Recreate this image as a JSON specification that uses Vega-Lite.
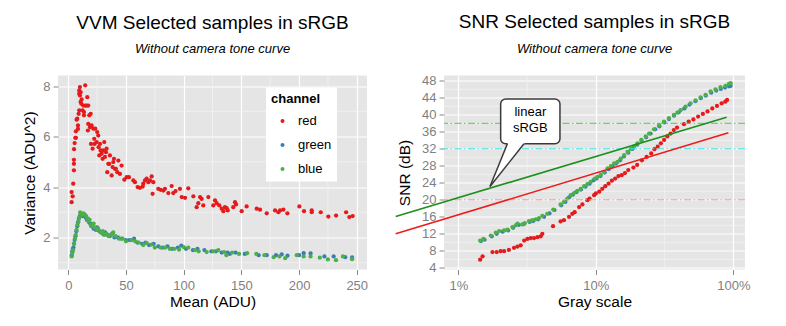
{
  "$schema": "https://vega.github.io/schema/vega-lite/v6.json",
  "background": "white",
  "padding": {"left": 22, "top": 12.5, "right": 10, "bottom": 10},
  "bounds": "flush",
  "spacing": 77,
  "config": {
    "font": "Liberation Sans",
    "view": {"fill": "#e5e5e5", "stroke": null},
    "axis": {"grid": true, "gridColor": "white", "gridWidth": 1.2, "domain": false, "tickColor": "#888888", "tickSize": 5, "labelColor": "#7f7f7f", "labelFontSize": 13, "titleFontSize": 15.5, "titleFontWeight": "normal", "titleColor": "black", "labelPadding": 3, "labelFlush": false, "labelOverlap": false},
    "title": {"fontSize": 19, "fontWeight": "normal", "subtitleFontSize": 13, "subtitleFontStyle": "italic", "subtitleColor": "black", "anchor": "middle", "frame": "group", "offset": 19, "subtitlePadding": 10.5}
  },
  "datasets": {
    "vvm": [
      {"c":"red","m":2.9,"v":3.40},{"c":"red","m":2.9,"v":3.80},{"c":"red","m":3.8,"v":3.63},{"c":"red","m":4.3,"v":4.13},{"c":"red","m":4.9,"v":4.66},{"c":"red","m":4.9,"v":4.92},{"c":"red","m":4.9,"v":5.08},{"c":"red","m":5.0,"v":5.5},{"c":"red","m":5.5,"v":5.74},{"c":"red","m":6.1,"v":5.95},{"c":"red","m":6.6,"v":5.95},{"c":"red","m":6.6,"v":6.21},{"c":"red","m":7.2,"v":6.67},{"c":"red","m":7.8,"v":6.71},{"c":"red","m":8.4,"v":6.3},{"c":"red","m":8.4,"v":6.44},{"c":"red","m":9.0,"v":6.9},{"c":"red","m":9.5,"v":7.04},{"c":"red","m":9.5,"v":7.7},{"c":"red","m":9.5,"v":7.83},{"c":"red","m":10.1,"v":7.96},{"c":"red","m":10.1,"v":7.63},{"c":"red","m":10.7,"v":7.76},{"c":"red","m":10.7,"v":7.37},{"c":"red","m":11.3,"v":7.3},{"c":"red","m":11.6,"v":7.47},{"c":"red","m":12.4,"v":7.04},{"c":"red","m":13,"v":7.23},{"c":"red","m":13.6,"v":6.84},{"c":"red","m":13.6,"v":6.97},{"c":"red","m":14.7,"v":8.03},{"c":"red","m":14.7,"v":7.23},{"c":"red","m":15.9,"v":7.23},{"c":"red","m":16.5,"v":7.56},{"c":"red","m":17.3,"v":7.23},{"c":"red","m":17,"v":6.24},{"c":"red","m":17.3,"v":6.5},{"c":"red","m":18.2,"v":6.84},{"c":"red","m":18.8,"v":6.37},{"c":"red","m":19.4,"v":6.9},{"c":"red","m":19.7,"v":5.71},{"c":"red","m":20.2,"v":6.44},{"c":"red","m":21.1,"v":5.52},{"c":"red","m":21.7,"v":6.31},{"c":"red","m":22.5,"v":5.91},{"c":"red","m":22.8,"v":5.71},{"c":"red","m":23.4,"v":6.31},{"c":"red","m":24.6,"v":5.78},{"c":"red","m":25.1,"v":6.18},{"c":"red","m":26,"v":6.04},{"c":"red","m":26.3,"v":5.58},{"c":"red","m":26.9,"v":5.25},{"c":"red","m":27.5,"v":5.71},{"c":"red","m":28,"v":5.45},{"c":"red","m":28.9,"v":5.32},{"c":"red","m":29.8,"v":5.12},{"c":"red","m":30.3,"v":5.45},{"c":"red","m":31.2,"v":5.78},{"c":"red","m":31.8,"v":5.19},{"c":"red","m":32.7,"v":5.38},{"c":"red","m":33.2,"v":5.52},{"c":"red","m":33.8,"v":4.59},{"c":"red","m":34.7,"v":4.92},{"c":"red","m":35.5,"v":4.92},{"c":"red","m":36.1,"v":5.25},{"c":"red","m":37.6,"v":4.46},{"c":"red","m":38.4,"v":4.79},{"c":"red","m":39,"v":4.99},{"c":"red","m":39.6,"v":5.12},{"c":"red","m":40.5,"v":4.72},{"c":"red","m":41.3,"v":4.72},{"c":"red","m":42.5,"v":4.59},{"c":"red","m":43.4,"v":5.05},{"c":"red","m":44.8,"v":4.52},{"c":"red","m":46.2,"v":4.85},{"c":"red","m":48.6,"v":4.29},{"c":"red","m":50.6,"v":4.39},{"c":"red","m":52.6,"v":4.39},{"c":"red","m":56.4,"v":4.26},{"c":"red","m":57.8,"v":4.19},{"c":"red","m":60.1,"v":4.0},{"c":"red","m":62.1,"v":3.97},{"c":"red","m":64.5,"v":4.02},{"c":"red","m":65,"v":4.13},{"c":"red","m":66.5,"v":4.26},{"c":"red","m":67.9,"v":4.33},{"c":"red","m":69.4,"v":4.19},{"c":"red","m":70.8,"v":4.26},{"c":"red","m":72.3,"v":4.42},{"c":"red","m":73.1,"v":3.73},{"c":"red","m":73.7,"v":4.19},{"c":"red","m":78,"v":3.93},{"c":"red","m":80.1,"v":3.89},{"c":"red","m":82.4,"v":3.86},{"c":"red","m":83.8,"v":3.93},{"c":"red","m":86.7,"v":3.76},{"c":"red","m":89.6,"v":4.04},{"c":"red","m":91,"v":3.76},{"c":"red","m":93,"v":3.84},{"c":"red","m":96.8,"v":3.93},{"c":"red","m":98.3,"v":3.6},{"c":"red","m":101.2,"v":3.57},{"c":"red","m":104,"v":3.95},{"c":"red","m":108.4,"v":3.63},{"c":"red","m":111.3,"v":3.2},{"c":"red","m":112.7,"v":3.36},{"c":"red","m":114.2,"v":3.6},{"c":"red","m":115.6,"v":3.53},{"c":"red","m":117,"v":3.27},{"c":"red","m":121.4,"v":3.6},{"c":"red","m":125.7,"v":3.27},{"c":"red","m":127.2,"v":3.47},{"c":"red","m":128.6,"v":3.36},{"c":"red","m":130.9,"v":3.27},{"c":"red","m":133,"v":3.14},{"c":"red","m":134.4,"v":3.04},{"c":"red","m":135.8,"v":3.2},{"c":"red","m":137.3,"v":3.16},{"c":"red","m":138.2,"v":3.07},{"c":"red","m":143,"v":3.2},{"c":"red","m":144.5,"v":3.4},{"c":"red","m":145.4,"v":3.31},{"c":"red","m":150.3,"v":3.04},{"c":"red","m":154.6,"v":3.23},{"c":"red","m":163.3,"v":3.14},{"c":"red","m":166.2,"v":3.1},{"c":"red","m":172,"v":2.96},{"c":"red","m":179.2,"v":3.07},{"c":"red","m":182.1,"v":3.0},{"c":"red","m":183.5,"v":3.07},{"c":"red","m":186.4,"v":3.1},{"c":"red","m":189.9,"v":2.96},{"c":"red","m":200.3,"v":3.23},{"c":"red","m":204.3,"v":3.04},{"c":"red","m":211,"v":3.0},{"c":"red","m":211,"v":3.07},{"c":"red","m":218.8,"v":3.0},{"c":"red","m":225.4,"v":2.83},{"c":"red","m":232.1,"v":2.87},{"c":"red","m":240.8,"v":3.0},{"c":"red","m":243.6,"v":2.81},{"c":"red","m":246.5,"v":2.85},
      {"c":"green","m":3.0,"v":1.3},{"c":"green","m":3.5,"v":1.45},{"c":"green","m":4.0,"v":1.55},{"c":"green","m":4.5,"v":1.6},{"c":"green","m":5.0,"v":1.75},{"c":"green","m":5.5,"v":1.9},{"c":"green","m":6.2,"v":2.05},{"c":"green","m":7.0,"v":2.25},{"c":"green","m":7.8,"v":2.45},{"c":"green","m":8.5,"v":2.6},{"c":"green","m":9.2,"v":2.75},{"c":"green","m":10.0,"v":2.85},{"c":"green","m":10.8,"v":2.95},{"c":"green","m":11.5,"v":2.9},{"c":"green","m":12.3,"v":2.85},{"c":"green","m":13.0,"v":2.95},{"c":"green","m":14.0,"v":2.85},{"c":"green","m":15.0,"v":2.8},{"c":"green","m":16,"v":2.7},{"c":"green","m":17,"v":2.75},{"c":"green","m":18,"v":2.6},{"c":"green","m":19,"v":2.55},{"c":"green","m":20,"v":2.45},{"c":"green","m":21,"v":2.5},{"c":"green","m":22,"v":2.35},{"c":"green","m":24,"v":2.3},{"c":"green","m":25,"v":2.4},{"c":"green","m":27,"v":2.25},{"c":"green","m":29,"v":2.2},{"c":"green","m":30,"v":2.15},{"c":"green","m":32,"v":2.2},{"c":"green","m":34,"v":2.1},{"c":"green","m":36,"v":2.05},{"c":"green","m":38,"v":2.15},{"c":"green","m":40,"v":2.0},{"c":"green","m":43,"v":2.0},{"c":"green","m":46,"v":1.95},{"c":"green","m":50,"v":1.9},{"c":"green","m":53,"v":1.9},{"c":"green","m":57,"v":1.95},{"c":"green","m":60,"v":1.8},{"c":"green","m":64,"v":1.75},{"c":"green","m":67,"v":1.8},{"c":"green","m":70,"v":1.7},{"c":"green","m":74,"v":1.75},{"c":"green","m":78,"v":1.65},{"c":"green","m":82,"v":1.6},{"c":"green","m":86,"v":1.65},{"c":"green","m":90,"v":1.55},{"c":"green","m":95,"v":1.6},{"c":"green","m":98,"v":1.68},{"c":"green","m":102,"v":1.55},{"c":"green","m":108,"v":1.5},{"c":"green","m":112,"v":1.55},{"c":"green","m":118,"v":1.5},{"c":"green","m":124,"v":1.45},{"c":"green","m":128,"v":1.45},{"c":"green","m":133,"v":1.4},{"c":"green","m":138,"v":1.4},{"c":"green","m":140,"v":1.35},{"c":"green","m":145,"v":1.4},{"c":"green","m":153,"v":1.35},{"c":"green","m":165,"v":1.3},{"c":"green","m":172,"v":1.3},{"c":"green","m":180,"v":1.3},{"c":"green","m":185,"v":1.33},{"c":"green","m":190,"v":1.28},{"c":"green","m":200,"v":1.3},{"c":"green","m":204,"v":1.38},{"c":"green","m":210,"v":1.37},{"c":"green","m":222,"v":1.25},{"c":"green","m":230,"v":1.25},{"c":"green","m":240,"v":1.22},{"c":"green","m":246,"v":1.21},
      {"c":"blue","m":3.0,"v":1.25},{"c":"blue","m":3.6,"v":1.4},{"c":"blue","m":4.2,"v":1.5},{"c":"blue","m":5.0,"v":1.75},{"c":"blue","m":5.8,"v":1.95},{"c":"blue","m":6.5,"v":2.1},{"c":"blue","m":7.2,"v":2.3},{"c":"blue","m":8.0,"v":2.5},{"c":"blue","m":8.8,"v":2.65},{"c":"blue","m":9.5,"v":2.8},{"c":"blue","m":10.3,"v":3.0},{"c":"blue","m":11.0,"v":2.95},{"c":"blue","m":12.0,"v":2.9},{"c":"blue","m":13.5,"v":2.95},{"c":"blue","m":14.5,"v":2.9},{"c":"blue","m":15.5,"v":2.85},{"c":"blue","m":16.5,"v":2.75},{"c":"blue","m":17.5,"v":2.65},{"c":"blue","m":18.5,"v":2.7},{"c":"blue","m":19.5,"v":2.5},{"c":"blue","m":20.5,"v":2.45},{"c":"blue","m":22,"v":2.55},{"c":"blue","m":23,"v":2.4},{"c":"blue","m":25,"v":2.3},{"c":"blue","m":26,"v":2.35},{"c":"blue","m":28,"v":2.2},{"c":"blue","m":30,"v":2.25},{"c":"blue","m":31,"v":2.1},{"c":"blue","m":33,"v":2.15},{"c":"blue","m":35,"v":2.05},{"c":"blue","m":37,"v":2.1},{"c":"blue","m":39,"v":2.2},{"c":"blue","m":41,"v":2.05},{"c":"blue","m":44,"v":1.95},{"c":"blue","m":47,"v":1.95},{"c":"blue","m":50,"v":1.85},{"c":"blue","m":55,"v":1.9},{"c":"blue","m":58,"v":1.85},{"c":"blue","m":61,"v":1.8},{"c":"blue","m":65,"v":1.7},{"c":"blue","m":68,"v":1.78},{"c":"blue","m":72,"v":1.72},{"c":"blue","m":75,"v":1.6},{"c":"blue","m":80,"v":1.6},{"c":"blue","m":84,"v":1.6},{"c":"blue","m":88,"v":1.55},{"c":"blue","m":92,"v":1.55},{"c":"blue","m":96,"v":1.52},{"c":"blue","m":100,"v":1.62},{"c":"blue","m":104,"v":1.6},{"c":"blue","m":110,"v":1.5},{"c":"blue","m":113,"v":1.45},{"c":"blue","m":120,"v":1.42},{"c":"blue","m":126,"v":1.45},{"c":"blue","m":130,"v":1.5},{"c":"blue","m":135,"v":1.42},{"c":"blue","m":137,"v":1.3},{"c":"blue","m":142,"v":1.4},{"c":"blue","m":148,"v":1.35},{"c":"blue","m":155,"v":1.38},{"c":"blue","m":163,"v":1.35},{"c":"blue","m":170,"v":1.3},{"c":"blue","m":178,"v":1.22},{"c":"blue","m":183,"v":1.25},{"c":"blue","m":188,"v":1.18},{"c":"blue","m":198,"v":1.3},{"c":"blue","m":204,"v":1.25},{"c":"blue","m":210,"v":1.25},{"c":"blue","m":218,"v":1.2},{"c":"blue","m":225,"v":1.13},{"c":"blue","m":232,"v":1.1},{"c":"blue","m":238,"v":1.25},{"c":"blue","m":246,"v":1.14}
    ],
    "snr": [
      {"c":"red","g":0.0144,"s":5.9},{"c":"red","g":0.0150,"s":6.7},{"c":"red","g":0.0177,"s":7.7},{"c":"red","g":0.0190,"s":7.7},{"c":"red","g":0.0203,"s":7.9},{"c":"red","g":0.0215,"s":7.9},{"c":"red","g":0.0233,"s":8.2},{"c":"red","g":0.0254,"s":8.7},{"c":"red","g":0.0269,"s":9.0},{"c":"red","g":0.0284,"s":9.3},{"c":"red","g":0.0301,"s":10.4},{"c":"red","g":0.0318,"s":10.8},{"c":"red","g":0.0336,"s":11.0},{"c":"red","g":0.0355,"s":11.0},{"c":"red","g":0.0376,"s":11.2},{"c":"red","g":0.0397,"s":11.4},{"c":"red","g":0.0408,"s":12.0},{"c":"red","g":0.0488,"s":13.8},{"c":"red","g":0.0554,"s":14.9},{"c":"red","g":0.0586,"s":15.2},{"c":"red","g":0.0638,"s":16.0},{"c":"red","g":0.0674,"s":16.7},{"c":"red","g":0.0701,"s":17.1},{"c":"red","g":0.0755,"s":18.3},{"c":"red","g":0.0798,"s":18.9},{"c":"red","g":0.0867,"s":19.9},{"c":"red","g":0.090,"s":20.3},{"c":"red","g":0.0971,"s":21.1},{"c":"red","g":0.100,"s":21.5},{"c":"red","g":0.1059,"s":21.9},{"c":"red","g":0.1113,"s":22.6},{"c":"red","g":0.1171,"s":23.2},{"c":"red","g":0.1237,"s":23.8},{"c":"red","g":0.1307,"s":24.5},{"c":"red","g":0.1381,"s":25.0},{"c":"red","g":0.1459,"s":25.6},{"c":"red","g":0.1541,"s":25.8},{"c":"red","g":0.1628,"s":26.3},{"c":"red","g":0.172,"s":27.0},{"c":"red","g":0.1875,"s":27.6},{"c":"red","g":0.1996,"s":28.2},{"c":"red","g":0.2162,"s":29.3},{"c":"red","g":0.2338,"s":30.1},{"c":"red","g":0.2527,"s":30.9},{"c":"red","g":0.2667,"s":31.9},{"c":"red","g":0.2815,"s":32.5},{"c":"red","g":0.2971,"s":33.3},{"c":"red","g":0.3136,"s":34.1},{"c":"red","g":0.3311,"s":34.9},{"c":"red","g":0.3495,"s":35.6},{"c":"red","g":0.3689,"s":36.4},{"c":"red","g":0.3894,"s":37.0},{"c":"red","g":0.4374,"s":37.8},{"c":"red","g":0.4734,"s":38.4},{"c":"red","g":0.5122,"s":38.9},{"c":"red","g":0.5542,"s":39.6},{"c":"red","g":0.5998,"s":40.2},{"c":"red","g":0.649,"s":40.8},{"c":"red","g":0.7023,"s":41.5},{"c":"red","g":0.7599,"s":42.1},{"c":"red","g":0.8223,"s":42.7},{"c":"red","g":0.8741,"s":43.1},{"c":"red","g":0.90,"s":43.5},
      {"c":"green","g":0.0146,"s":10.3},{"c":"green","g":0.0155,"s":10.6},{"c":"green","g":0.0175,"s":11.4},{"c":"green","g":0.0190,"s":12.0},{"c":"green","g":0.0210,"s":12.5},{"c":"green","g":0.0230,"s":12.8},{"c":"green","g":0.0250,"s":13.4},{"c":"green","g":0.0275,"s":14.1},{"c":"green","g":0.0300,"s":14.3},{"c":"green","g":0.0330,"s":14.8},{"c":"green","g":0.0350,"s":15.0},{"c":"green","g":0.0380,"s":15.4},{"c":"green","g":0.0420,"s":16.0},{"c":"green","g":0.0460,"s":16.8},{"c":"green","g":0.0500,"s":17.6},{"c":"green","g":0.0560,"s":18.7},{"c":"green","g":0.0600,"s":19.5},{"c":"green","g":0.0640,"s":20.6},{"c":"green","g":0.0680,"s":21.2},{"c":"green","g":0.0720,"s":21.8},{"c":"green","g":0.0780,"s":22.4},{"c":"green","g":0.0840,"s":23.1},{"c":"green","g":0.0900,"s":23.8},{"c":"green","g":0.0960,"s":24.6},{"c":"green","g":0.1010,"s":25.0},{"c":"green","g":0.1080,"s":25.6},{"c":"green","g":0.1160,"s":26.4},{"c":"green","g":0.1240,"s":27.2},{"c":"green","g":0.1320,"s":27.9},{"c":"green","g":0.1400,"s":28.5},{"c":"green","g":0.1500,"s":29.3},{"c":"green","g":0.1600,"s":30.2},{"c":"green","g":0.1720,"s":31.1},{"c":"green","g":0.1850,"s":32.0},{"c":"green","g":0.2000,"s":33.0},{"c":"green","g":0.2150,"s":33.9},{"c":"green","g":0.2320,"s":34.7},{"c":"green","g":0.2500,"s":35.6},{"c":"green","g":0.2700,"s":36.6},{"c":"green","g":0.2900,"s":37.3},{"c":"green","g":0.3150,"s":38.2},{"c":"green","g":0.3400,"s":39.0},{"c":"green","g":0.3700,"s":39.8},{"c":"green","g":0.4000,"s":40.6},{"c":"green","g":0.4400,"s":41.5},{"c":"green","g":0.4800,"s":42.4},{"c":"green","g":0.5300,"s":43.2},{"c":"green","g":0.5800,"s":43.9},{"c":"green","g":0.6300,"s":44.5},{"c":"green","g":0.6900,"s":45.2},{"c":"green","g":0.7500,"s":45.7},{"c":"green","g":0.8100,"s":46.1},{"c":"green","g":0.8700,"s":46.4},{"c":"green","g":0.9300,"s":46.7},{"c":"green","g":0.9550,"s":46.8},
      {"c":"blue","g":0.0144,"s":10.4},{"c":"blue","g":0.0152,"s":10.8},{"c":"blue","g":0.0172,"s":11.6},{"c":"blue","g":0.0187,"s":12.25},{"c":"blue","g":0.0198,"s":12.65},{"c":"blue","g":0.0215,"s":12.8},{"c":"blue","g":0.0227,"s":13.0},{"c":"blue","g":0.0247,"s":13.6},{"c":"blue","g":0.0261,"s":14.0},{"c":"blue","g":0.0269,"s":14.4},{"c":"blue","g":0.0292,"s":14.2},{"c":"blue","g":0.0304,"s":14.5},{"c":"blue","g":0.0326,"s":15.0},{"c":"blue","g":0.0345,"s":15.2},{"c":"blue","g":0.0365,"s":15.4},{"c":"blue","g":0.0386,"s":15.7},{"c":"blue","g":0.0408,"s":16.2},{"c":"blue","g":0.0443,"s":16.7},{"c":"blue","g":0.0490,"s":17.7},{"c":"blue","g":0.0554,"s":18.9},{"c":"blue","g":0.0586,"s":19.5},{"c":"blue","g":0.0620,"s":20.3},{"c":"blue","g":0.0656,"s":21.1},{"c":"blue","g":0.0694,"s":21.6},{"c":"blue","g":0.0734,"s":22.1},{"c":"blue","g":0.0776,"s":22.6},{"c":"blue","g":0.0821,"s":23.2},{"c":"blue","g":0.0867,"s":23.7},{"c":"blue","g":0.0917,"s":24.2},{"c":"blue","g":0.0982,"s":25.0},{"c":"blue","g":0.1027,"s":25.4},{"c":"blue","g":0.1087,"s":25.9},{"c":"blue","g":0.1149,"s":26.6},{"c":"blue","g":0.1215,"s":27.4},{"c":"blue","g":0.1285,"s":27.9},{"c":"blue","g":0.1358,"s":28.6},{"c":"blue","g":0.1436,"s":28.9},{"c":"blue","g":0.1518,"s":29.7},{"c":"blue","g":0.1605,"s":30.5},{"c":"blue","g":0.1697,"s":31.3},{"c":"blue","g":0.1794,"s":31.9},{"c":"blue","g":0.1896,"s":32.6},{"c":"blue","g":0.2005,"s":33.3},{"c":"blue","g":0.2141,"s":34.1},{"c":"blue","g":0.2304,"s":34.9},{"c":"blue","g":0.2436,"s":35.6},{"c":"blue","g":0.2647,"s":36.6},{"c":"blue","g":0.2877,"s":37.5},{"c":"blue","g":0.3128,"s":38.4},{"c":"blue","g":0.340,"s":39.2},{"c":"blue","g":0.3696,"s":40.0},{"c":"blue","g":0.391,"s":40.5},{"c":"blue","g":0.4134,"s":41.1},{"c":"blue","g":0.4494,"s":41.9},{"c":"blue","g":0.4885,"s":42.7},{"c":"blue","g":0.531,"s":43.4},{"c":"blue","g":0.5772,"s":44.1},{"c":"blue","g":0.6274,"s":44.7},{"c":"blue","g":0.682,"s":45.5},{"c":"blue","g":0.7414,"s":46.0},{"c":"blue","g":0.8059,"s":46.5},{"c":"blue","g":0.876,"s":46.8},{"c":"blue","g":0.9273,"s":47.3},{"c":"blue","g":0.955,"s":47.45}
    ],
    "fit": [
      {"c":"green","g":0.0035,"s":16.07},{"c":"green","g":0.893,"s":39.44},
      {"c":"red","g":0.0035,"s":12.0},{"c":"red","g":0.92,"s":35.76}
    ],
    "gLy": [{"v":1},{"v":3},{"v":5},{"v":7}],
    "gLx": [{"m":25},{"m":75},{"m":125},{"m":175},{"m":225}],
    "gRy": [{"s":6},{"s":10},{"s":14},{"s":18},{"s":22},{"s":26},{"s":30},{"s":34},{"s":38},{"s":42},{"s":46}],
    "gRx": [{"g":0.0316},{"g":0.316}],
    "box": [{"g":0.0203,"g2":0.0548,"s":33.18,"s2":43.72}],
    "tailFill": [{"g":0.01698,"s":23.13,"s2":23.13},{"g":0.02297,"s":33.55,"s2":28.46},{"g":0.03065,"s":33.55,"s2":33.55}],
    "tailEdge": [{"e":"L","g":0.01698,"s":23.13},{"e":"L","g":0.02272,"s":33.18},{"e":"R","g":0.01698,"s":23.13},{"e":"R","g":0.0300,"s":33.18}],
    "label": [{"t":"linear","g":0.03335,"s":40.66},{"t":"sRGB","g":0.03335,"s":36.78}]
  },
  "hconcat": [
    {
      "width": 309,
      "height": 194,
      "title": {"text": "VVM Selected samples in sRGB", "subtitle": "Without camera tone curve"},
      "layer": [
        {"data": {"name": "gLy"}, "mark": {"type": "rule", "color": "#f2f2f2", "strokeWidth": 0.8},
         "encoding": {"y": {"field": "v", "type": "quantitative", "title": "Variance (ADU^2)", "scale": {"domain": [0.731, 8.42], "nice": false, "zero": false}, "axis": {"values": [2, 4, 6, 8], "titlePadding": 5, "labelOverlap": false}}}},
        {"data": {"name": "gLx"}, "mark": {"type": "rule", "color": "#f2f2f2", "strokeWidth": 0.8},
         "encoding": {"x": {"field": "m", "type": "quantitative", "title": "Mean (ADU)", "scale": {"domain": [-8.9, 258.9], "nice": false, "zero": false}, "axis": {"values": [0, 50, 100, 150, 200, 250], "titlePadding": 2, "labelPadding": 5, "labelOverlap": false}}}},
        {"data": {"name": "vvm"}, "mark": {"type": "circle", "size": 18, "opacity": 1},
         "encoding": {
           "x": {"field": "m", "type": "quantitative", "title": "Mean (ADU)", "scale": {"domain": [-8.9, 258.9], "nice": false, "zero": false}, "axis": {"values": [0, 50, 100, 150, 200, 250], "titlePadding": 2, "labelPadding": 5, "labelOverlap": false}},
           "y": {"field": "v", "type": "quantitative", "title": "Variance (ADU^2)", "scale": {"domain": [0.731, 8.42], "nice": false, "zero": false}, "axis": {"values": [2, 4, 6, 8], "titlePadding": 5, "labelOverlap": false}},
           "color": {"field": "c", "type": "nominal", "scale": {"domain": ["red", "green", "blue"], "range": ["#E41A1C", "#377EB8", "#4DAF4A"]},
             "legend": {"orient": "none", "legendX": 208, "legendY": 12, "title": "channel", "titleFontSize": 13, "titleFontWeight": "bold", "titleColor": "black", "labelFontSize": 13, "labelColor": "black", "fillColor": "white", "padding": 5, "symbolType": "circle", "symbolSize": 16, "rowPadding": 10, "titlePadding": 9, "symbolOffset": 5, "labelOffset": 9}}
         }}
      ]
    },
    {
      "width": 301,
      "height": 194,
      "title": {"text": "SNR Selected samples in sRGB", "subtitle": "Without camera tone curve"},
      "layer": [
        {"data": {"name": "gRy"}, "mark": {"type": "rule", "color": "#f2f2f2", "strokeWidth": 0.8},
         "encoding": {"y": {"field": "s", "type": "quantitative", "title": "SNR (dB)", "scale": {"domain": [3.6, 49.25], "nice": false, "zero": false}, "axis": {"values": [4, 8, 12, 16, 20, 24, 28, 32, 36, 40, 44, 48], "titlePadding": 9, "labelOverlap": false}}}},
        {"data": {"name": "gRx"}, "mark": {"type": "rule", "color": "#f2f2f2", "strokeWidth": 0.8},
         "encoding": {"x": {"field": "g", "type": "quantitative", "title": "Gray scale", "scale": {"type": "log", "domain": [0.00786, 1.215], "nice": false}, "axis": {"values": [0.01, 0.1, 1], "format": ".0%", "titlePadding": 2, "labelPadding": 5, "labelOverlap": false}}}},
        {"data": {"name": "snr"}, "mark": {"type": "circle", "size": 18, "opacity": 1},
         "encoding": {
           "x": {"field": "g", "type": "quantitative", "title": "Gray scale", "scale": {"type": "log", "domain": [0.00786, 1.215], "nice": false}, "axis": {"values": [0.01, 0.1, 1], "format": ".0%", "titlePadding": 2, "labelPadding": 5, "labelOverlap": false}},
           "y": {"field": "s", "type": "quantitative", "title": "SNR (dB)", "scale": {"domain": [3.6, 49.25], "nice": false, "zero": false}, "axis": {"values": [4, 8, 12, 16, 20, 24, 28, 32, 36, 40, 44, 48], "titlePadding": 9, "labelOverlap": false}},
           "color": {"field": "c", "type": "nominal", "scale": {"domain": ["red", "green", "blue"], "range": ["#E41A1C", "#377EB8", "#4DAF4A"]}, "legend": null}
         }},
        {"data": {"values": [{"s": 38}]}, "mark": {"type": "rule", "color": "#33dd33", "strokeWidth": 1, "strokeDash": [7, 2.5, 1.5, 2.5]},
         "encoding": {"y": {"field": "s", "type": "quantitative", "title": "SNR (dB)", "axis": {"values": [4, 8, 12, 16, 20, 24, 28, 32, 36, 40, 44, 48], "titlePadding": 9, "labelOverlap": false}}}},
        {"data": {"values": [{"s": 32}]}, "mark": {"type": "rule", "color": "#33e3e3", "strokeWidth": 1, "strokeDash": [7, 2.5, 1.5, 2.5]},
         "encoding": {"y": {"field": "s", "type": "quantitative", "title": "SNR (dB)", "axis": {"values": [4, 8, 12, 16, 20, 24, 28, 32, 36, 40, 44, 48], "titlePadding": 9, "labelOverlap": false}}}},
        {"data": {"values": [{"s": 20}]}, "mark": {"type": "rule", "color": "#f09999", "strokeWidth": 1, "strokeDash": [7, 2.5, 1.5, 2.5]},
         "encoding": {"y": {"field": "s", "type": "quantitative", "title": "SNR (dB)", "axis": {"values": [4, 8, 12, 16, 20, 24, 28, 32, 36, 40, 44, 48], "titlePadding": 9, "labelOverlap": false}}}},
        {"data": {"name": "fit"}, "mark": {"type": "line", "strokeWidth": 1.6},
         "encoding": {
           "x": {"field": "g", "type": "quantitative", "title": "Gray scale", "axis": {"values": [0.01, 0.1, 1], "format": ".0%", "titlePadding": 2, "labelPadding": 5, "labelOverlap": false}},
           "y": {"field": "s", "type": "quantitative", "title": "SNR (dB)", "axis": {"values": [4, 8, 12, 16, 20, 24, 28, 32, 36, 40, 44, 48], "titlePadding": 9, "labelOverlap": false}},
           "stroke": {"field": "c", "type": "nominal", "scale": {"domain": ["green", "red"], "range": ["#1d8f1d", "#ec1c1c"]}, "legend": null}
         }},
        {"data": {"name": "box"}, "mark": {"type": "rect", "fill": "white", "stroke": "#3a3a3a", "strokeWidth": 1.5, "cornerRadius": 5},
         "encoding": {
           "x": {"field": "g", "type": "quantitative", "title": "Gray scale", "axis": {"values": [0.01, 0.1, 1], "format": ".0%", "titlePadding": 2, "labelPadding": 5, "labelOverlap": false}}, "x2": {"field": "g2"},
           "y": {"field": "s", "type": "quantitative", "title": "SNR (dB)", "axis": {"values": [4, 8, 12, 16, 20, 24, 28, 32, 36, 40, 44, 48], "titlePadding": 9, "labelOverlap": false}}, "y2": {"field": "s2"}
         }},
        {"data": {"name": "tailFill"}, "mark": {"type": "area", "fill": "white", "opacity": 1},
         "encoding": {
           "x": {"field": "g", "type": "quantitative", "title": "Gray scale", "axis": {"values": [0.01, 0.1, 1], "format": ".0%", "titlePadding": 2, "labelPadding": 5, "labelOverlap": false}},
           "y": {"field": "s", "type": "quantitative", "title": "SNR (dB)", "axis": {"values": [4, 8, 12, 16, 20, 24, 28, 32, 36, 40, 44, 48], "titlePadding": 9, "labelOverlap": false}}, "y2": {"field": "s2"}
         }},
        {"data": {"name": "tailEdge"}, "mark": {"type": "line", "color": "#3a3a3a", "strokeWidth": 1.5},
         "encoding": {
           "x": {"field": "g", "type": "quantitative", "title": "Gray scale", "axis": {"values": [0.01, 0.1, 1], "format": ".0%", "titlePadding": 2, "labelPadding": 5, "labelOverlap": false}},
           "y": {"field": "s", "type": "quantitative", "title": "SNR (dB)", "axis": {"values": [4, 8, 12, 16, 20, 24, 28, 32, 36, 40, 44, 48], "titlePadding": 9, "labelOverlap": false}},
           "detail": {"field": "e", "type": "nominal"}
         }},
        {"data": {"name": "label"}, "mark": {"type": "text", "fontSize": 13, "align": "center", "baseline": "middle", "color": "black"},
         "encoding": {
           "x": {"field": "g", "type": "quantitative", "title": "Gray scale", "axis": {"values": [0.01, 0.1, 1], "format": ".0%", "titlePadding": 2, "labelPadding": 5, "labelOverlap": false}},
           "y": {"field": "s", "type": "quantitative", "title": "SNR (dB)", "axis": {"values": [4, 8, 12, 16, 20, 24, 28, 32, 36, 40, 44, 48], "titlePadding": 9, "labelOverlap": false}},
           "text": {"field": "t", "type": "nominal"}
         }}
      ]
    }
  ]
}
